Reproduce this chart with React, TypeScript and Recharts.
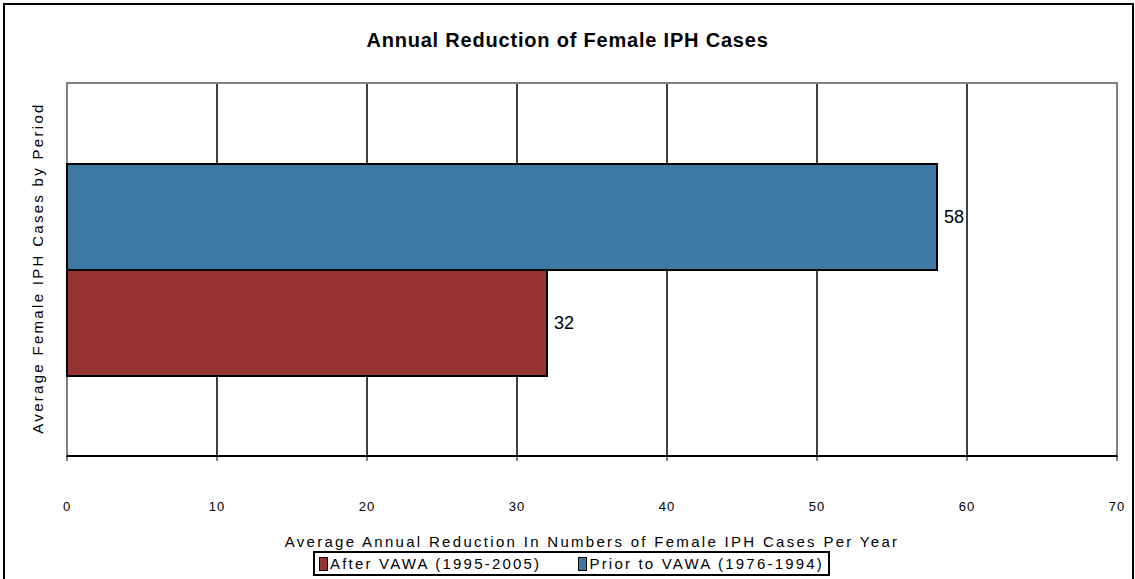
import React from "react";
import {
  Bar,
  BarChart,
  CartesianGrid,
  LabelList,
  Legend,
  ReferenceArea,
  XAxis,
  YAxis,
} from "recharts";

const periods = ["Female IPH"];
const priorValues = [58];
const afterValues = [32];
const xTicks = [0, 10, 20, 30, 40, 50, 60, 70];

const PRIOR_LABEL = "Prior to VAWA (1976-1994)";
const AFTER_LABEL = "After VAWA (1995-2005)";

const data = periods.map((name, i) => ({
  name,
  prior: priorValues[i],
  after: afterValues[i],
}));

const font = "Arial, 'Liberation Sans', sans-serif";

function LegendBox(props: any) {
  const items = [...(props.payload || [])].sort((a: any, b: any) =>
    String(a.value).localeCompare(String(b.value))
  );
  return (
    <div
      style={{
        display: "flex",
        justifyContent: "space-between",
        border: "2px solid #000",
        padding: "2px 4px",
        fontFamily: font,
        fontSize: 15,
        letterSpacing: 2.2,
        color: "#000",
        background: "#fff",
        whiteSpace: "nowrap",
      }}
    >
      {items.map((it: any) => (
        <span key={it.value} style={{ display: "flex", alignItems: "center" }}>
          <span
            style={{
              width: 7,
              height: 12,
              background: it.color,
              border: "1px solid #000",
              marginRight: 2,
              display: "inline-block",
            }}
          />
          {it.value}
        </span>
      ))}
    </div>
  );
}

export default function App() {
  return (
    <div
      style={{
        position: "fixed",
        left: 0,
        top: 0,
        width: 1135,
        height: 579,
        background: "#fff",
        overflow: "hidden",
      }}
    >
      <div
        style={{
          position: "absolute",
          left: 3,
          top: 3,
          width: 1127,
          height: 600,
          border: "2px solid #000",
        }}
      />
      <div
        style={{
          position: "absolute",
          top: 29,
          left: 0,
          width: 1135,
          textAlign: "center",
          fontFamily: font,
          fontWeight: "bold",
          fontSize: 20,
          letterSpacing: 0.8,
          color: "#000",
        }}
      >
        Annual Reduction of Female IPH Cases
      </div>
      <div
        style={{
          position: "absolute",
          left: 37,
          top: 268,
          transform: "translate(-50%, -50%) rotate(-90deg)",
          whiteSpace: "nowrap",
          fontFamily: font,
          fontSize: 15,
          letterSpacing: 2.3,
          color: "#000",
        }}
      >
        Average Female IPH Cases by Period
      </div>
      <div style={{ position: "absolute", left: 0, top: 0 }}>
        <BarChart
          width={1135}
          height={579}
          data={data}
          layout="vertical"
          margin={{ top: 83, right: 18, left: 67, bottom: 23 }}
          barGap={0}
          barSize={106}
        >
          <CartesianGrid vertical horizontal={false} stroke="#000" strokeWidth={1.5} />
          <ReferenceArea
            x1={0}
            x2={70}
            fill="none"
            fillOpacity={0}
            stroke="#808080"
            strokeWidth={2}
            ifOverflow="visible"
          />
          <XAxis
            type="number"
            domain={[0, 70]}
            ticks={xTicks}
            interval={0}
            height={100}
            axisLine={{ stroke: "#000", strokeWidth: 2 }}
            tickLine={{ stroke: "#000" }}
            tickSize={5}
            tickMargin={41}
            tick={{ fill: "#000", fontSize: 13, fontFamily: font, letterSpacing: 1 }}
            label={{
              value: "Average Annual Reduction In Numbers of Female IPH Cases Per Year",
              position: "insideBottom",
              offset: 9,
              fill: "#000",
              fontSize: 15,
              fontFamily: font,
              letterSpacing: 2.3,
            }}
          />
          <YAxis type="category" dataKey="name" width={0} tick={false} tickLine={false} axisLine={false} />
          <Bar
            dataKey="prior"
            name={PRIOR_LABEL}
            fill="#3D79A2"
            stroke="#000"
            strokeWidth={2}
            isAnimationActive={false}
          >
            <LabelList
              dataKey="prior"
              position="right"
              offset={7}
              fill="#000"
              fontSize={18}
              fontFamily={font}
            />
          </Bar>
          <Bar
            dataKey="after"
            name={AFTER_LABEL}
            fill="#963434"
            stroke="#000"
            strokeWidth={2}
            isAnimationActive={false}
          >
            <LabelList
              dataKey="after"
              position="right"
              offset={7}
              fill="#000"
              fontSize={18}
              fontFamily={font}
            />
          </Bar>
          <Legend
            layout="horizontal"
            verticalAlign="middle"
            align="center"
            content={<LegendBox />}
            wrapperStyle={{ top: 551, left: 313, width: 517 }}
          />
        </BarChart>
      </div>
    </div>
  );
}
